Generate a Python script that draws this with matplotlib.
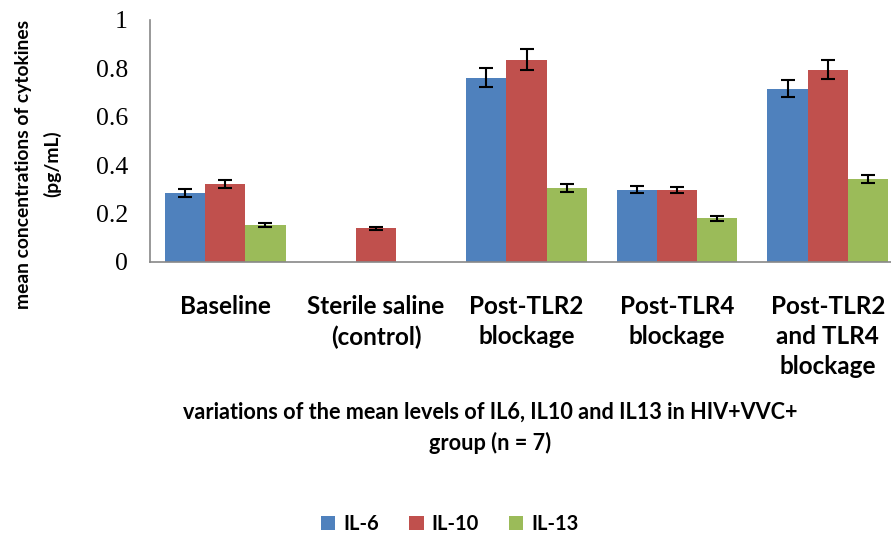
import numpy as np
import matplotlib.pyplot as plt

categories = ["Baseline", "Sterile saline\n(control)", "Post-TLR2\nblockage",
              "Post-TLR4\nblockage", "Post-TLR2\nand TLR4\nblockage"]
il6 = [0.286, np.nan, 0.762, 0.299, 0.716]
il6_err = [0.017, np.nan, 0.040, 0.014, 0.036]
il10 = [0.321, 0.140, 0.836, 0.299, 0.795]
il10_err = [0.017, 0.006, 0.043, 0.012, 0.040]
il13 = [0.153, np.nan, 0.306, 0.180, 0.344]
il13_err = [0.007, np.nan, 0.017, 0.009, 0.017]
series_names = ["IL-6", "IL-10", "IL-13"]
colors = ["#4F81BD", "#C0504D", "#9BBB59"]

fig = plt.figure(figsize=(8.91, 5.40), dpi=100)
ax = fig.add_axes([150 / 891, 278 / 540, 753 / 891, 242 / 540])

x = np.arange(len(categories))
w = 0.8 / 3
for i, (vals, errs) in enumerate([(il6, il6_err), (il10, il10_err), (il13, il13_err)]):
    ax.bar(x + (i - 1) * w, vals, w, color=colors[i], label=series_names[i],
           yerr=errs, capsize=5, error_kw=dict(ecolor="black", elinewidth=1.5, capthick=1.5))

ax.set_xlim(-0.5, len(categories) - 0.5)
ax.set_ylim(0, 1)
ax.set_yticks([0, 0.2, 0.4, 0.6, 0.8, 1])
ax.set_yticklabels(["0", "0.2", "0.4", "0.6", "0.8", "1"], family="Liberation Serif", fontsize=18.5)
ax.set_xticks(x)
ax.set_xticklabels(categories, family="Lato", fontweight="bold", fontsize=17.5, linespacing=1.35)
ax.tick_params(axis="y", length=0, pad=16)
ax.tick_params(axis="x", length=0, pad=24)
for s in ["top", "right"]:
    ax.spines[s].set_visible(False)
for s in ["left", "bottom"]:
    ax.spines[s].set_color("#888888")
    ax.spines[s].set_linewidth(1.2)

fig.text(38 / 891, 1 - 164 / 540, "mean concentrations of cytokines\n(pg/mL)", rotation=90,
         ha="center", va="center", family="Lato", fontweight="bold", fontsize=13.9,
         linespacing=1.75)
fig.text(490 / 891, 1 - 428 / 540,
         "variations of the mean levels of IL6, IL10 and IL13 in HIV+VVC+\ngroup (n = 7)",
         ha="center", va="center", family="Lato", fontweight="bold", fontsize=15.6,
         linespacing=1.5)

handles, labels = ax.get_legend_handles_labels()
fig.legend(handles, labels, loc="center", bbox_to_anchor=(450 / 891, 1 - 524 / 540), ncol=3,
           frameon=False, prop=dict(family="Lato", weight="bold", size=14.5),
           handlelength=0.7, handleheight=0.7, handletextpad=0.4, columnspacing=1.5)

plt.savefig("out.png")
